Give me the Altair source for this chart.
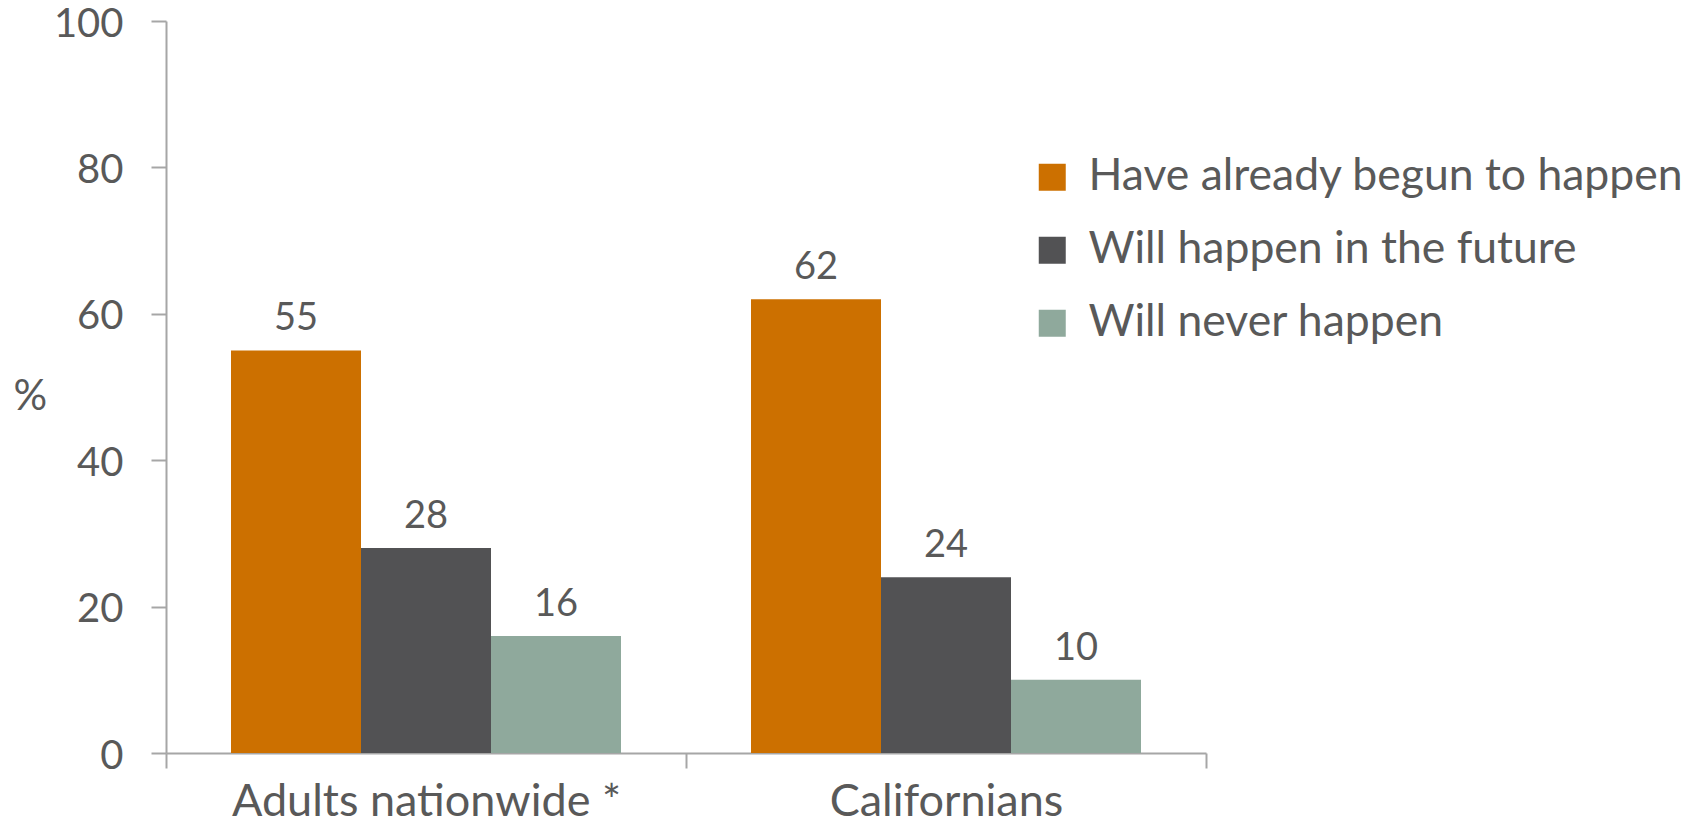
import altair as alt
import pandas as pd

groups = ["Adults nationwide *", "Californians"]
series = ["Have already begun to happen", "Will happen in the future", "Will never happen"]
values = {
    "Have already begun to happen": [55, 62],
    "Will happen in the future": [28, 24],
    "Will never happen": [16, 10],
}
colors = ["#CC7000", "#525254", "#8FA99C"]
y_ticks = [0, 20, 40, 60, 80, 100]

rows = []
for s in series:
    for g, v in zip(groups, values[s]):
        rows.append({"group": g, "series": s, "value": v})
df = pd.DataFrame(rows)

FONT = "Lato"
TXT = "#595959"
AX = "#A6A6A6"

x = alt.X("group:N", sort=groups, title=None,
          scale=alt.Scale(paddingInner=0, paddingOuter=0),
          axis=alt.Axis(labelAngle=0, tickBand="extent", tickSize=15, tickColor=AX,
                        tickWidth=2, domainColor=AX, domainWidth=2,
                        labelFontSize=45, labelFont=FONT, labelColor=TXT,
                        labelBaseline="alphabetic", labelPadding=47, labelLimit=600))
xo = alt.XOffset("series:N", sort=series,
                 scale=alt.Scale(paddingInner=0, paddingOuter=0.5))
y = alt.Y("value:Q", scale=alt.Scale(domain=[0, 100], nice=False),
          axis=alt.Axis(values=y_ticks, grid=False, tickSize=15, tickColor=AX,
                        tickWidth=2, domainColor=AX, domainWidth=2,
                        labelFontSize=40, labelFont=FONT, labelColor=TXT,
                        labelPadding=28, labelOffset=3, title="%", titleAngle=0,
                        titleFont=FONT, titleFontSize=42, titleColor=TXT,
                        titleFontWeight="normal", titleAlign="left",
                        titleBaseline="middle", titleX=-153, titleY=375))

color = alt.Color("series:N", sort=series,
                  scale=alt.Scale(domain=series, range=colors),
                  legend=alt.Legend(title=None, orient="none", legendX=864, legendY=134,
                                    symbolType="square", symbolSize=729,
                                    symbolStrokeWidth=0, labelFont=FONT,
                                    labelFontSize=44.5, labelColor=TXT, labelOffset=14,
                                    rowPadding=28, padding=0, labelLimit=800))

bars = alt.Chart(df).mark_bar(size=130).encode(x=x, xOffset=xo, y=y, color=color)

labels = alt.Chart(df).mark_text(baseline="bottom", dy=-12, font=FONT, fontSize=38,
                                 color=TXT).encode(
    x=alt.X("group:N", sort=groups), xOffset=alt.XOffset("series:N", sort=series),
    y="value:Q", text="value:Q")

chart = alt.layer(bars, labels).properties(
    width=1040, height=732,
    background="white",
    autosize=alt.AutoSizeParams(type="none"),
    padding={"left": 158, "top": 13, "right": 492, "bottom": 74},
).configure_view(stroke=None)

chart.save("out.html", embed_options={"renderer": "svg", "actions": False})
